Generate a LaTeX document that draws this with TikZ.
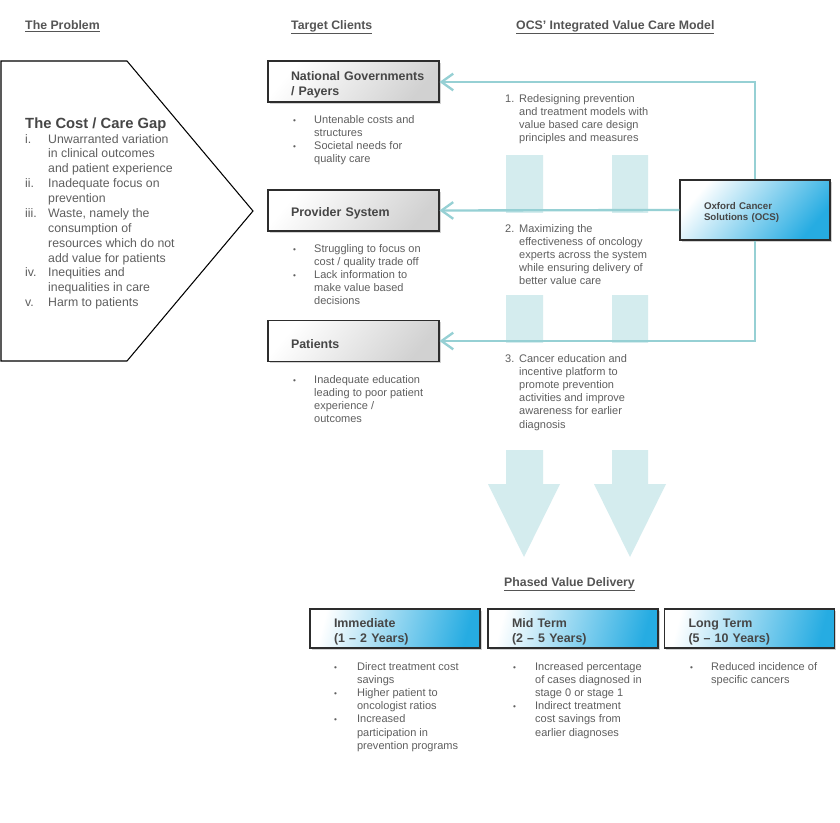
\documentclass[tikz,border=0pt]{standalone}
\usepackage{fontspec}
\setmainfont{Liberation Sans}
\usepackage{tikz}
\usepackage{xcolor}
\usetikzlibrary{arrows.meta,positioning,shadows}

\definecolor{txtgray}{RGB}{95,95,95}
\definecolor{headgray}{RGB}{85,85,85}
\definecolor{titlegray}{RGB}{70,70,70}
\definecolor{boxline}{RGB}{45,45,45}
\definecolor{linkteal}{RGB}{150,208,212}
\definecolor{arrowteal}{RGB}{212,236,238}
\definecolor{ocsblue}{RGB}{38,172,226}

\newcommand{\bul}{{\scriptsize\textbullet}}

\begin{document}
\begin{tikzpicture}[x=0.3mm, y=-0.3mm,
  heading/.style={anchor=base west, inner sep=0, text=headgray, font=\fontsize{10.5}{12.6}\selectfont\bfseries},
  clientbox/.style={draw=boxline, line width=0.9pt, left color=white, right color=black!18, shading angle=50,
    minimum width=51.3mm, minimum height=12.3mm, text width=51.3mm, inner xsep=0pt, inner ysep=0pt,
    align=left, text=titlegray, font=\fontsize{10.6}{12.75}\selectfont\bfseries,
    execute at begin node={\leftskip=6.9mm\rule{0pt}{1.25em}},
    drop shadow={shadow xshift=1.3pt, shadow yshift=-1.3pt, opacity=0.35}},
  phasebox/.style={clientbox, right color=ocsblue, shading angle=75, minimum width=51mm, minimum height=11.7mm,
    text width=51mm, execute at begin node={\leftskip=7.2mm\rule{0pt}{1.25em}}},
  ocsbox/.style={clientbox, right color=ocsblue, shading angle=50, minimum width=45mm, minimum height=18mm,
    text width=45mm, execute at begin node={\leftskip=7.2mm\rule{0pt}{1.25em}}, font=\fontsize{8.3}{9.6}\selectfont\bfseries},
  bulletlist/.style={anchor=base west, inner sep=0, text=txtgray, font=\fontsize{9.4}{11.3}\selectfont},
  gaplist/.style={bulletlist, font=\fontsize{10.5}{12.7}\selectfont},
  gaptitle/.style={anchor=base west, inner sep=0, text=titlegray, font=\fontsize{12.6}{15}\selectfont\bfseries},
  gapshape/.style={draw=black, line width=0.9pt, fill=white},
  link/.style={draw=linkteal, line width=2pt, -{Straight Barb[length=3.5mm, width=5mm]}},
  bigarrow/.style={fill=arrowteal}
]
\fill[white] (0,0) rectangle (840,823);
\useasboundingbox (0,0) rectangle (840,823);

% column headings
\node[heading] (hproblem) at (25,29) {\underline{The Problem}};
\node[heading] (hclients) at (291,29) {\underline{Target Clients}};
\node[heading] (hmodel) at (516,29) {\underline{OCS’ Integrated Value Care Model}};
\node[heading] (hphased) at (504,586) {\underline{Phased Value Delivery}};

% the problem
\draw[gapshape] (1,61) -- (127,61) -- (253,211) -- (127,361) -- (1,361) -- cycle;
\node[gaptitle] (gaptitle) at (25,128) {The Cost / Care Gap};
\node[gaplist] (gaplist) at (25,143) {\begin{tabular}[t]{@{}p{19.6pt}@{}l@{}}
i. & Unwarranted variation\\ & in clinical outcomes\\ & and patient experience\\
ii. & Inadequate focus on\\ & prevention\\
iii. & Waste, namely the\\ & consumption of\\ & resources which do not\\ & add value for patients\\
iv. & Inequities and\\ & inequalities in care\\
v. & Harm to patients\end{tabular}};

% background arrows behind the model
\fill[bigarrow] (506,155) -- (543,155) -- (543,484) -- (560,484) -- (524,557) -- (488,484) -- (506,484) -- cycle;
\fill[bigarrow] (612,155) -- (648,155) -- (648,484) -- (666,484) -- (630,557) -- (594,484) -- (612,484) -- cycle;
\fill[white] (482,84) rectangle (665,155);
\fill[white] (482,213) rectangle (665,295);
\fill[white] (482,343) rectangle (665,450);

% target clients
\node[clientbox] (natgov) at (353.5,81.5) {National Governments\\/ Payers};
\node[clientbox] (provider) at (353.5,210.5) {Provider System};
\node[clientbox] (patients) at (353.5,341) {Patients};
\node[bulletlist] (natlist) at (293,123) {\begin{tabular}[t]{@{}p{17.9pt}@{}l@{}}
\bul & Untenable costs and\\ & structures\\ \bul & Societal needs for\\ & quality care\end{tabular}};
\node[bulletlist] (provlist) at (293,252) {\begin{tabular}[t]{@{}p{17.9pt}@{}l@{}}
\bul & Struggling to focus on\\ & cost / quality trade off\\ \bul & Lack information to\\ & make value based\\ & decisions\end{tabular}};
\node[bulletlist] (patlist) at (293,383) {\begin{tabular}[t]{@{}p{17.9pt}@{}l@{}}
\bul & Inadequate education\\ & leading to poor patient\\ & experience /\\ & outcomes\end{tabular}};

% integrated model
\node[bulletlist] (step1) at (505,102) {\begin{tabular}[t]{@{}p{11.9pt}@{}l@{}}
1. & Redesigning prevention\\ & and treatment models with\\ & value based care design\\ & principles and measures\end{tabular}};
\node[bulletlist] (step2) at (505,232) {\begin{tabular}[t]{@{}p{11.9pt}@{}l@{}}
2. & Maximizing the\\ & effectiveness of oncology\\ & experts across the system\\ & while ensuring delivery of\\ & better value care\end{tabular}};
\node[bulletlist] (step3) at (505,362) {\begin{tabular}[t]{@{}p{11.9pt}@{}l@{}}
3. & Cancer education and\\ & incentive platform to\\ & promote prevention\\ & activities and improve\\ & awareness for earlier\\ & diagnosis\end{tabular}};

\node[ocsbox] (ocs) at (755,210) {Oxford Cancer\\Solutions (OCS)};
\coordinate (topturn) at (755,82);
\coordinate (botturn) at (755,341);
\draw[link] (ocs.north) -- (topturn) -- (topturn -| natgov.east);
\draw[link] (ocs.west) -- (provider.east);
\draw[link] (ocs.south) -- (botturn) -- (botturn -| patients.east);

% phased value delivery
\node[phasebox] (immediate) at (395,628.5) {Immediate\\(1 – 2 Years)};
\node[phasebox] (midterm) at (573,628.5) {Mid Term\\(2 – 5 Years)};
\node[phasebox] (longterm) at (749.5,628.5) {Long Term\\(5 – 10 Years)};
\node[bulletlist] (immlist) at (334,670) {\begin{tabular}[t]{@{}p{19.5pt}@{}l@{}}
\bul & Direct treatment cost\\ & savings\\ \bul & Higher patient to\\ & oncologist ratios\\
\bul & Increased\\ & participation in\\ & prevention programs\end{tabular}};
\node[bulletlist] (midlist) at (513,670) {\begin{tabular}[t]{@{}p{18.7pt}@{}l@{}}
\bul & Increased percentage\\ & of cases diagnosed in\\ & stage 0 or stage 1\\
\bul & Indirect treatment\\ & cost savings from\\ & earlier diagnoses\end{tabular}};
\node[bulletlist] (longlist) at (690,670) {\begin{tabular}[t]{@{}p{17.9pt}@{}l@{}}
\bul & Reduced incidence of\\ & specific cancers\end{tabular}};
\end{tikzpicture}
\end{document}
